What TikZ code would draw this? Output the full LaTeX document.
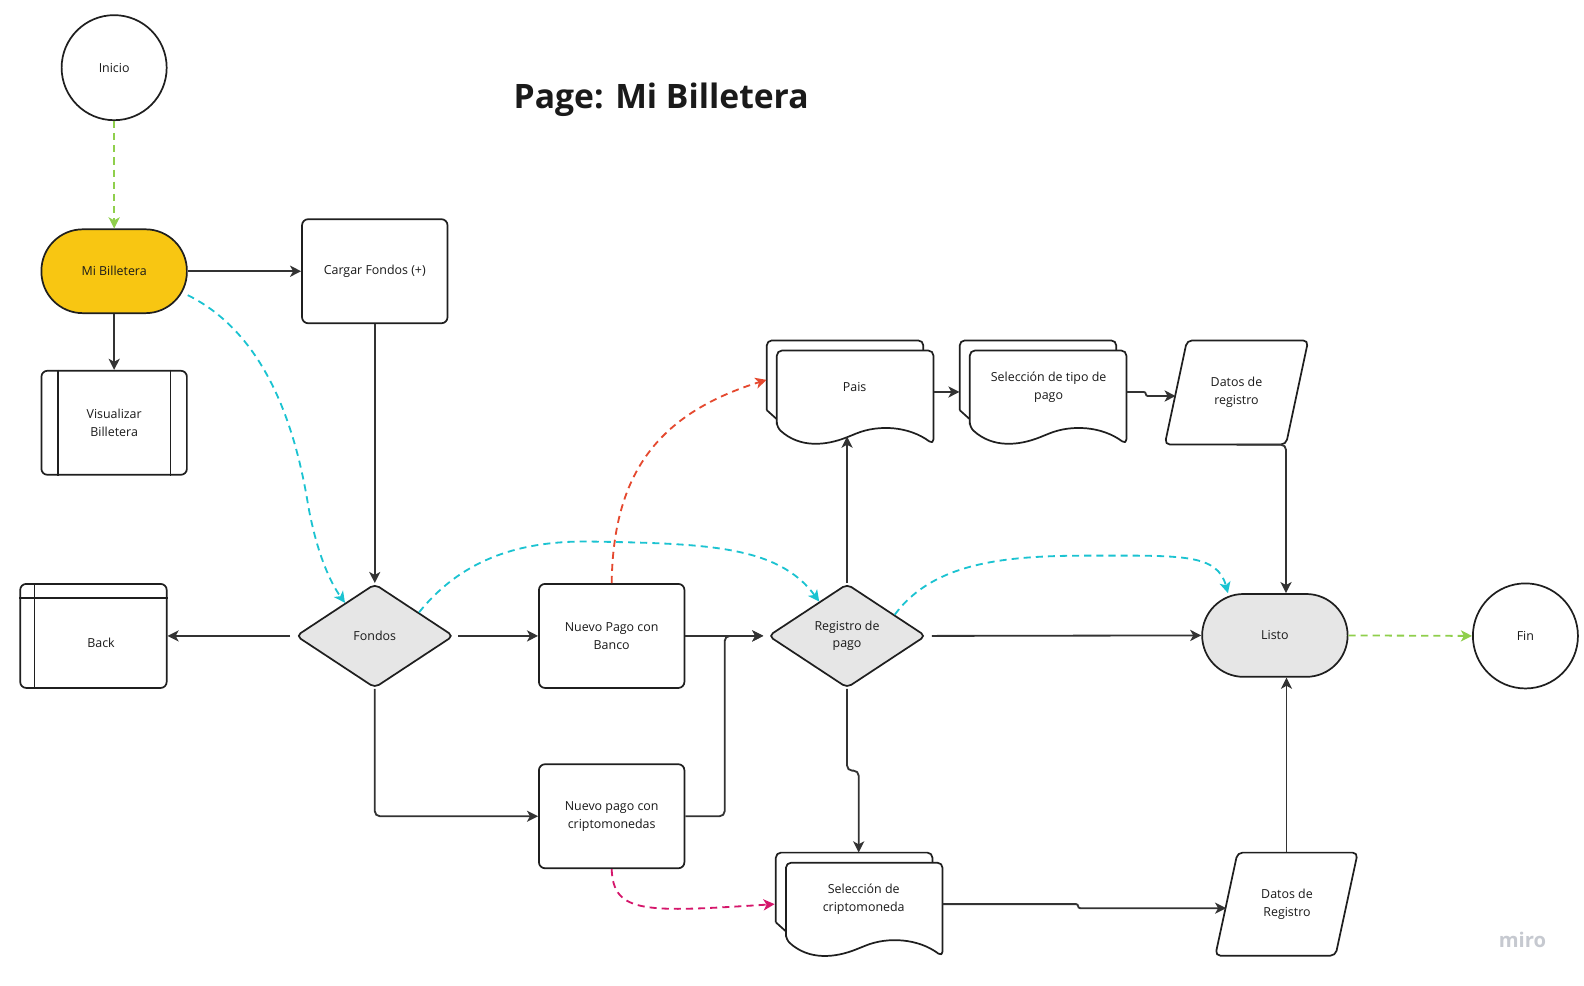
\documentclass[tikz,border=0pt]{standalone}
\usepackage{fontspec}
\setmainfont{Open Sans}
\usetikzlibrary{arrows.meta,shapes.geometric,calc}
\definecolor{boxc}{HTML}{1F1F1F}
\definecolor{linec}{HTML}{333333}
\definecolor{txt}{HTML}{1A1A1A}
\definecolor{yel}{HTML}{F8C612}
\definecolor{grayf}{HTML}{E6E6E6}
\definecolor{cyanc}{HTML}{1BC3D1}
\definecolor{greenc}{HTML}{8FCF4C}
\definecolor{redc}{HTML}{E5492F}
\definecolor{magc}{HTML}{D5166B}
\definecolor{miroc}{HTML}{C6C9D0}
\newcommand\mdocshape[2]{%
  \filldraw[docline, fill=white, rounded corners=5pt] (#1-10,#2+59) -- (#1-10,#2-10) -- (#1+145,#2-10) -- (#1+145,#2);
  \draw[docline] (#1-10,#2+59) -- (#1,#2+68);
  \filldraw[docline, fill=white, rounded corners=5pt] (#1,#2+76) -- (#1,#2) -- (#1+155,#2) -- (#1+155,#2+93)
     .. controls (#1+131,#2+75) and (#1+101,#2+73) .. (#1+74,#2+84)
     .. controls (#1+49,#2+94) and (#1+23,#2+97) .. (#1,#2+76) -- cycle;
}
\tikzset{
  base/.style={draw=boxc, line width=1.7pt, text=txt, font=\fontsize{12.3}{17.5}\selectfont, align=center, inner sep=0pt},
  proc/.style={base, rectangle, rounded corners=6pt, minimum width=144pt, minimum height=103pt, fill=white},
  circ/.style={base, circle, minimum size=104pt, fill=white},
  stadium/.style={base, rectangle, rounded corners=41pt, minimum width=144pt, minimum height=83pt},
  dia/.style={base, diamond, aspect=1.5, minimum width=156pt, minimum height=103pt, fill=grayf, rounded corners=5pt},
  ghost/.style={rectangle, draw=none, inner sep=0pt},
  lbl/.style={text=txt, font=\fontsize{12.3}{17.5}\selectfont, align=center, inner sep=0pt},
  docline/.style={draw=boxc, line width=1.7pt, line join=round},
  arr/.style={draw=linec, line width=1.8pt, -{Stealth[length=11pt,width=11pt,inset=3pt]}},
  dsh/.style={arr, dash pattern=on 7pt off 5pt},
}
\begin{document}
\begin{tikzpicture}[x=1pt,y=-1pt]
\useasboundingbox (0,0) rectangle (1568,976);
\fill[white] (0,0) rectangle (1568,976);

% title
\node[font=\fontsize{33.3}{38}\selectfont\bfseries, text=txt, anchor=base, inner sep=0pt] (title) at (654.5,107) {Page: Mi Billetera};
\node[font=\fontsize{20}{24}\selectfont\bfseries, text=miroc, anchor=base, inner sep=0pt] (miro) at (1507,938) {miro};

% nodes
\node[circ] (inicio) at (113,67) {Inicio};
\node[stadium, fill=yel] (mibill) at (113,268.5) {Mi Billetera};
\node[proc] (cargar) at (371,268.5) {Cargar Fondos (+)};
\node[proc] (visual) at (113,418.5) {Visualizar\\Billetera};
\draw[docline] ([xshift=17pt]visual.north west) -- ([xshift=17pt]visual.south west);
\draw[docline] ([xshift=-17pt]visual.north east) -- ([xshift=-17pt]visual.south east);
\node[proc, minimum width=145pt] (back) at (92.5,629.5) {};
\draw[docline] ([xshift=15pt]back.north west) -- ([xshift=15pt]back.south west);
\draw[docline] ([yshift=-15pt]back.north west) -- ([yshift=-15pt]back.north east);
\node[lbl] (backt) at (100,636) {Back};
\node[dia] (fondos) at (371,629.5) {Fondos};
\node[proc] (banco) at (605.5,629.5) {Nuevo Pago con\\Banco};
\node[dia] (regpago) at (838.5,629.5) {Registro de\\pago};
\node[proc] (cripto) at (605.5,808) {Nuevo pago con\\criptomonedas};
\node[stadium, fill=grayf, minimum height=82pt] (listo) at (1262,629) {Listo};
\node[circ] (fin) at (1510,629.5) {Fin};

% document shapes
\mdocshape{769}{347}
\node[ghost, minimum width=155pt, minimum height=93pt] (pais) at (846.5,393.5) {};
\node[lbl] (paist) at (846,383) {Pais};
\mdocshape{960}{347}
\node[ghost, minimum width=155pt, minimum height=93pt] (seltipo) at (1037.5,393.5) {};
\node[lbl] (seltipot) at (1038,383) {Selección de tipo de\\pago};
\mdocshape{778}{854}
\node[ghost, minimum width=155pt, minimum height=92pt] (selcripto) at (855.5,900) {};
\node[lbl] (selcriptot) at (855,890) {Selección de\\criptomoneda};

% parallelograms
\filldraw[docline, fill=white, rounded corners=5pt] (1175,337) -- (1295,337) -- (1273,440) -- (1153,440) -- cycle;
\node[ghost, minimum width=120pt, minimum height=103pt] (datos1) at (1224,388.5) {};
\node[lbl] (datos1t) at (1224,388) {Datos de\\registro};
\filldraw[docline, fill=white, rounded corners=5pt] (1225,844) -- (1344,844) -- (1322,946) -- (1203,946) -- cycle;
\node[ghost, minimum width=119pt, minimum height=102pt] (datos2) at (1273.5,895) {};
\node[lbl] (datos2t) at (1274,895) {Datos de\\Registro};

\coordinate (paisin) at ([yshift=8pt]pais.south);

% solid connectors
\draw[arr] (mibill) -- (cargar);
\draw[arr] (mibill) -- (visual);
\draw[arr] (cargar) -- (fondos);
\draw[arr, shorten <=5pt] (fondos.west) -- (back.east);
\draw[arr, shorten <=4pt] (fondos.east) -- (banco.west);
\draw[arr, rounded corners=5pt] (fondos.south) |- (cripto.west);
\draw[arr, shorten >=4pt] (banco.east) -- (regpago.west);
\draw[arr, rounded corners=5pt] (cripto.east) -- ++(39,0) |- ([xshift=-4pt]regpago.west);
\draw[arr] (regpago.north) -- (regpago.north |- paisin);
\draw[arr] ([yshift=5.5pt]pais.east) -- ([xshift=-10pt,yshift=5.5pt]seltipo.west);
\draw[arr, rounded corners=2pt] ([yshift=5.5pt]seltipo.east) -- ++(19,0) -- ++(0,4) -- ([yshift=-3.5pt]datos1.west);
\draw[arr, rounded corners=5pt] (datos1.south) -| ([xshift=11pt]listo.north);
\draw[arr, shorten <=5pt] (regpago.east) -- (listo.west);
\draw[arr, rounded corners=5pt] (regpago.south) -- ++(0,81) -| ([xshift=-5.5pt,yshift=10pt]selcripto.north);
\draw[arr, rounded corners=2pt] ([yshift=5pt]selcripto.east) -- ++(134,0) -- ++(0,4) -- ([yshift=-4pt]datos2.west);
\draw[arr] (datos2.north) -- (datos2.north |- listo.south);

% dashed connectors
\draw[dsh, draw=greenc] (inicio) -- (mibill);
\draw[dsh, draw=greenc] (listo.east) -- (fin.west);
\draw[dsh, draw=cyanc] (mibill.-18) .. controls (262,330) and (292,420) .. (305,500) .. controls (314,550) and (328,578) .. (fondos.132);
\draw[dsh, draw=cyanc] (fondos.28) .. controls (460,550) and (520,536) .. (580,536) .. controls (700,538) and (770,540) .. (regpago.129);
\draw[dsh, draw=cyanc] (regpago.24) .. controls (925,555) and (1000,550) .. (1080,550) .. controls (1170,550) and (1205,548) .. (listo.138);
\draw[dsh, draw=redc] (banco.north) .. controls (607,470) and (650,410) .. ([xshift=-10pt,yshift=17.5pt]pais.west);
\draw[dsh, draw=magc] (cripto.south) .. controls (607,905) and (640,903) .. ([xshift=-11pt,yshift=5pt]selcripto.west);
\end{tikzpicture}
\end{document}
